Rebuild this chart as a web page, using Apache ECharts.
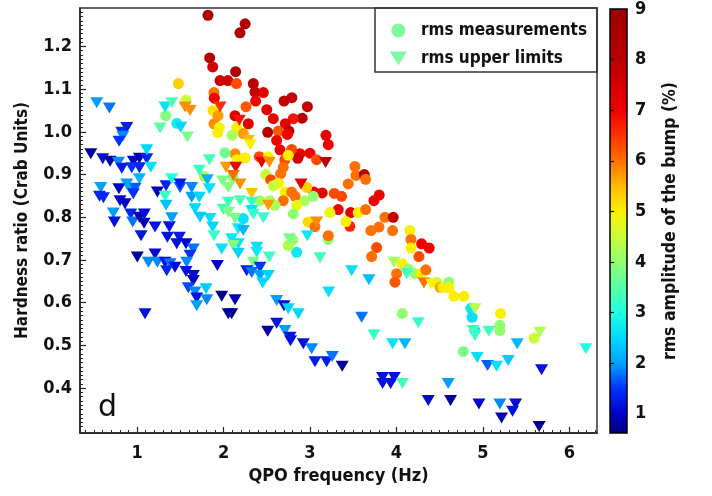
<!DOCTYPE html>
<html><head><meta charset="utf-8">
<script src="https://cdn.jsdelivr.net/npm/echarts@6/dist/echarts.min.js"></script>
<style>html,body{margin:0;padding:0;background:#fff}#c{width:712px;height:496px}</style>
</head><body><div id="c"></div>
<script>
// ---- data: rms measurements (circles) ----
const measFreq = [1.82,2.25,2.19,1.84,1.875,2.14,1.96,2.05,2.15,2.345,2.364,2.46,1.89,1.894,2.372,2.70,2.79,2.97,2.26,2.50,2.576,2.91,2.807,2.715,2.133,2.287,2.511,2.757,2.634,3.185,1.879,1.936,1.89,1.952,1.933,2.153,2.10,2.229,3.212,3.0,2.884,3.077,3.52,3.532,3.628,3.644,3.443,3.801,3.74,3.281,3.366,3.142,3.046,3.038,2.934,2.962,3.327,3.471,3.558,3.644,3.231,3.867,3.963,2.98,3.058,3.462,3.705,3.798,3.956,4.156,4.168,4.168,4.291,4.379,4.26,3.771,3.713,3.212,3.212,2.846,4.067,4.002,3.983,4.137,4.214,4.291,4.341,4.465,4.503,4.54,4.607,4.607,4.665,4.78,4.861,4.876,5.205,5.197,5.197,4.067,4.908,5.593,4.773,3.416,2.615,2.738,2.653,2.788,2.858,2.133,2.017,2.249,2.414,2.518,2.71,2.691,2.749,2.488,2.546,2.661,2.634,2.576,2.711,2.788,2.827,2.691,2.846,2.807,2.422,2.538,2.595,2.229,2.80,2.749,1.478,1.332,1.566,1.459,1.775,2.153,2.11];
const measHR = [1.273,1.253,1.232,1.173,1.152,1.141,1.12,1.12,1.113,1.113,1.093,1.092,1.092,1.079,1.072,1.072,1.08,1.059,1.059,1.052,1.031,1.032,1.031,1.019,1.038,1.019,0.999,1.002,1.002,0.992,1.05,1.038,1.019,1.01,0.998,1.01,0.992,0.996,0.970,0.95,0.949,0.935,0.919,0.898,0.90,0.889,0.878,0.852,0.839,0.856,0.849,0.857,0.859,0.849,0.839,0.87,0.818,0.811,0.811,0.818,0.811,0.80,0.80,0.789,0.778,0.779,0.769,0.777,0.769,0.769,0.748,0.728,0.738,0.728,0.708,0.729,0.708,0.748,0.757,0.718,0.691,0.668,0.648,0.679,0.668,0.669,0.677,0.648,0.636,0.636,0.648,0.635,0.615,0.615,0.587,0.566,0.575,0.547,0.535,0.575,0.535,0.517,0.486,0.79,0.98,0.994,0.958,0.959,0.938,0.949,0.951,0.939,0.942,0.941,0.935,0.917,0.945,0.90,0.888,0.902,0.88,0.874,0.859,0.859,0.849,0.839,0.828,0.808,0.839,0.839,0.828,0.797,0.747,0.734,1.113,1.038,1.074,1.02,0.896,0.935,0.895];
const measRms = [8.5,8.3,8.3,8.0,7.5,8.3,7.6,7.6,6.3,8.0,7.8,7.3,6.0,7.0,7.0,7.8,7.8,7.8,6.2,7.2,7.0,8.0,6.8,7.2,7.3,7.2,8.0,7.8,6.2,7.2,5.1,5.7,5.8,4.9,5.0,5.0,4.2,5.7,7.0,7.0,7.0,6.3,6.0,6.0,8.0,6.0,6.0,7.0,7.0,6.3,6.3,7.2,7.0,4.0,4.2,5.3,7.0,7.2,5.0,6.0,4.8,6.0,7.8,5.2,6.0,6.6,6.0,6.0,6.0,5.0,6.0,5.0,7.0,7.0,6.3,6.3,6.0,4.0,6.0,2.7,5.0,6.0,6.2,4.0,4.0,5.0,6.0,4.5,5.6,5.0,4.0,5.0,5.0,5.0,2.7,2.6,5.0,4.0,4.0,4.0,2.7,4.5,3.8,5.0,7.0,7.0,7.0,6.3,7.6,5.8,3.7,5.0,6.3,5.0,6.3,6.0,5.0,4.5,6.3,6.0,5.0,4.5,5.0,6.0,6.0,6.0,4.8,4.0,4.2,4.2,4.2,2.6,4.0,4.3,5.3,3.9,4.5,2.8,4.3,5.0,3.9];

// ---- data: rms upper limits (triangles) ----
const limFreq = [1.96,2.183,3.181,2.896,3.077,2.969,3.116,3.482,3.682,3.216,3.971,4.118,4.318,4.407,4.908,3.598,4.252,3.74,3.956,4.098,4.888,4.908,5.069,5.397,5.659,6.191,4.934,5.054,5.159,5.293,5.679,2.923,3.019,3.058,3.193,3.258,3.373,3.84,3.975,3.84,3.933,4.07,4.599,4.368,4.626,4.954,5.197,5.378,5.343,5.216,5.651,2.287,2.31,1.836,2.029,2.141,2.113,2.191,2.326,2.441,2.53,2.518,2.326,2.191,2.055,1.998,2.055,2.326,2.345,2.46,2.133,1.844,1.875,2.171,2.229,1.89,2.094,2.171,2.113,1.979,2.171,2.384,2.384,2.53,2.761,0.534,0.68,0.881,0.823,0.835,0.792,0.465,0.603,0.688,0.784,0.823,0.957,1.027,1.112,0.939,1.027,1.112,1.159,1.266,1.324,1.401,1.555,1.613,1.505,1.582,1.72,1.813,1.836,1.027,0.58,0.881,0.79,0.919,0.977,0.565,0.611,0.803,0.861,0.957,1.235,1.335,1.401,1.497,1.497,1.324,1.335,1.632,1.632,1.72,1.67,1.728,0.726,0.738,0.927,0.95,1.027,1.084,1.081,1.208,1.373,1.401,1.046,1.351,1.489,1.459,1.566,1.651,1.613,1.574,1.003,1.131,1.208,1.235,1.324,1.382,1.439,1.343,1.566,1.651,1.651,1.593,1.67,1.798,1.69,1.806,1.69,1.092,1.929,1.979,2.133,2.055,2.094,2.345,2.268,2.326,2.422,2.422,2.518,2.453,2.615,2.699,2.749,2.865,2.615,2.511,2.711,2.769,2.775,1.99,2.055];
const limHR = [1.058,1.027,0.928,0.878,0.789,0.757,0.705,0.675,0.654,0.625,0.695,0.668,0.646,0.644,0.586,0.566,0.553,0.525,0.504,0.504,0.535,0.523,0.533,0.504,0.531,0.492,0.472,0.453,0.451,0.465,0.443,0.504,0.492,0.462,0.462,0.474,0.451,0.425,0.425,0.411,0.411,0.411,0.411,0.371,0.371,0.363,0.363,0.363,0.346,0.33,0.31,0.98,0.97,0.935,0.917,0.917,0.898,0.878,0.856,0.929,0.929,0.828,0.835,0.839,0.835,0.818,0.812,0.816,0.807,0.799,0.797,0.797,0.777,0.773,0.769,0.757,0.75,0.738,0.734,0.726,0.716,0.73,0.718,0.707,0.75,1.068,1.056,1.01,0.999,0.99,0.978,0.949,0.937,0.931,0.929,0.915,0.931,0.938,0.937,0.916,0.916,0.958,0.917,1.009,1.058,1.068,1.058,1.05,1.011,0.988,0.91,0.888,0.867,0.89,0.87,0.878,0.867,0.867,0.868,0.849,0.846,0.839,0.832,0.855,0.859,0.874,0.89,0.87,0.878,0.849,0.828,0.87,0.847,0.847,0.82,0.80,0.81,0.789,0.808,0.789,0.80,0.808,0.786,0.777,0.778,0.799,0.757,0.753,0.753,0.738,0.738,0.726,0.711,0.695,0.707,0.695,0.714,0.695,0.695,0.691,0.683,0.675,0.673,0.664,0.652,0.635,0.625,0.633,0.611,0.607,0.593,0.574,0.687,0.615,0.607,0.574,0.574,0.695,0.675,0.671,0.683,0.664,0.664,0.646,0.605,0.593,0.586,0.574,0.552,0.533,0.535,0.519,0.511,0.885,0.87];
const limRms = [6.5,6.8,8.0,7.2,5.8,2.7,3.3,2.6,2.3,2.6,4.2,3.3,6.0,5.0,4.3,1.8,3.2,3.2,2.6,2.2,3.3,3.2,3.3,2.2,4.3,3.0,2.6,1.7,2.6,2.4,1.2,1.2,1.9,1.3,1.3,1.8,0.8,1.2,1.2,1.2,1.2,3.3,2.0,1.1,0.8,1.1,1.9,1.1,1.2,0.9,0.7,5.5,5.0,3.3,5.7,7.0,6.0,5.8,5.4,7.0,5.8,5.7,3.2,3.4,3.3,3.3,3.8,2.6,3.2,3.2,3.8,2.6,2.5,2.7,2.2,3.2,2.7,2.6,3.9,2.6,2.5,2.6,2.7,3.3,3.8,2.0,1.8,1.3,1.4,1.9,1.5,0.8,1.2,0.8,1.9,1.3,1.0,0.9,1.4,1.5,1.4,2.5,2.6,3.5,2.6,3.4,5.8,5.8,2.5,3.8,3.2,2.2,2.6,2.2,2.0,2.0,1.0,2.1,1.7,1.4,1.4,1.1,1.0,1.5,0.9,1.3,3.0,1.7,1.3,3.2,2.3,1.9,2.0,2.5,2.5,2.4,2.0,1.2,1.4,1.8,0.9,1.1,0.9,1.2,1.2,2.0,1.2,1.2,1.3,1.2,1.1,1.8,1.5,1.9,0.8,1.9,1.1,1.9,1.2,1.8,1.1,1.4,1.2,1.1,1.0,1.6,1.9,2.4,1.2,1.9,2.0,1.2,1.0,0.7,0.9,0.8,0.8,3.8,1.3,1.8,1.5,2.0,2.5,2.5,2.0,1.1,2.5,2.5,1.2,0.8,2.0,1.2,1.2,3.8,3.9];

// ---- ticks / labels ----
const xTickValues = [1, 2, 3, 4, 5, 6];
const yTickValues = [0.4, 0.5, 0.6, 0.7, 0.8, 0.9, 1.0, 1.1, 1.2];
const cbTickValues = [1, 2, 3, 4, 5, 6, 7, 8, 9];
const seriesNames = ['rms measurements', 'rms upper limits'];

// ---- styling ----
const X_MIN = 0.34, X_MAX = 6.32, Y_MIN = 0.295, Y_MAX = 1.29, C_MIN = 0.62, C_MAX = 9;
const FONT = 'DejaVu Sans Condensed';
const rampStops = [[0.62,'#00007a'],[1.0,'#0000c8'],[1.5,'#0030ff'],[2.0,'#00a0ff'],[2.5,'#00d8ff'],[3.0,'#20ffe0'],[3.5,'#58ffa8'],[4.0,'#90ff70'],[4.5,'#c8ff38'],[5.0,'#fff000'],[5.5,'#ffb800'],[6.0,'#ff7000'],[6.5,'#ff3000'],[7.0,'#f00000'],[7.5,'#d40000'],[8.0,'#b80000'],[9.0,'#a00000']];
function hex2rgb(h){return [parseInt(h.slice(1,3),16),parseInt(h.slice(3,5),16),parseInt(h.slice(5,7),16)];}
function ramp(v){
  if (v <= rampStops[0][0]) return rampStops[0][1];
  for (let i = 1; i < rampStops.length; i++) {
    if (v <= rampStops[i][0]) {
      const a = rampStops[i-1], b = rampStops[i];
      const t = (v - a[0]) / (b[0] - a[0]);
      const ca = hex2rgb(a[1]), cb = hex2rgb(b[1]);
      const c = ca.map((x, k) => Math.round(x + (cb[k] - x) * t));
      return 'rgb(' + c.join(',') + ')';
    }
  }
  return rampStops[rampStops.length-1][1];
}
const N = 120;
const vmColors = [];
for (let i = 0; i <= N; i++) vmColors.push(ramp(C_MIN + (C_MAX - C_MIN) * i / N));
const gradStops = [];
for (let i = 0; i <= N; i++) gradStops.push({offset: i / N, color: ramp(C_MAX - (C_MAX - C_MIN) * i / N)});

const minorX = []; for (let i = 4; i <= 63; i++) if (i % 10) minorX.push(i / 10);
const minorY = []; for (let i = 30; i <= 128; i++) if (i % 10) minorY.push(i / 100);

const measData = measFreq.map((f, i) => [f, measHR[i], measRms[i]]);
const limData = limFreq.map((f, i) => [f, limHR[i], limRms[i]]);

const PLOT = {left: 80, top: 8, width: 517, height: 425};
const labelStyle = {fontFamily: FONT, fontWeight: 'bold', fontSize: 18, color: '#111'};
const chart = echarts.init(document.getElementById('c'), null, {renderer: 'canvas'});
chart.setOption({
  animation: false,
  backgroundColor: '#fff',
  title: {text: 'd', left: 93, top: 388, textStyle: {fontFamily: 'DejaVu Sans', fontWeight: 'normal', fontSize: 30, color: '#111'}},
  grid: [
    Object.assign({show: true, borderColor: '#333', borderWidth: 1.5, backgroundColor: 'transparent'}, PLOT),
    {left: 610, top: 9, width: 17, height: 424, show: true, borderColor: '#000', borderWidth: 1.5,
     backgroundColor: {type: 'linear', x: 0, y: 0, x2: 0, y2: 1, colorStops: gradStops}},
    Object.assign({show: false}, PLOT)
  ],
  xAxis: [
    {type: 'value', gridIndex: 0, min: X_MIN, max: X_MAX, position: 'bottom',
     name: 'QPO frequency (Hz)', nameLocation: 'middle', nameGap: 34,
     nameTextStyle: {fontFamily: FONT, fontWeight: 'bold', fontSize: 18, color: '#111'},
     axisLine: {show: true, lineStyle: {color: '#222', width: 1.5}},
     axisTick: {show: true, inside: true, length: 6, customValues: xTickValues, lineStyle: {color: '#222', width: 1.2}},
     axisLabel: {show: true, customValues: xTickValues, margin: 11, formatter: v => String(Math.round(v)), ...labelStyle},
     splitLine: {show: false}},
    {type: 'value', gridIndex: 1, min: 0, max: 1, show: false},
    {type: 'value', gridIndex: 2, min: X_MIN, max: X_MAX, position: 'bottom',
     axisLine: {show: false}, axisLabel: {show: false}, splitLine: {show: false},
     axisTick: {show: true, inside: true, length: 3, customValues: minorX, lineStyle: {color: '#222', width: 1}}}
  ],
  yAxis: [
    {type: 'value', gridIndex: 0, min: Y_MIN, max: Y_MAX, position: 'left',
     name: 'Hardness ratio (Crab Units)', nameLocation: 'middle', nameGap: 49, nameRotate: 90,
     nameTextStyle: {fontFamily: FONT, fontWeight: 'bold', fontSize: 17, color: '#111'},
     axisLine: {show: true, lineStyle: {color: '#222', width: 1.5}},
     axisTick: {show: true, inside: true, length: 6, customValues: yTickValues, lineStyle: {color: '#222', width: 1.2}},
     axisLabel: {show: true, customValues: yTickValues, margin: 8, formatter: v => v.toFixed(1), ...labelStyle},
     splitLine: {show: false}},
    {type: 'value', gridIndex: 1, min: C_MIN, max: C_MAX, position: 'right',
     name: 'rms amplitude of the bump (%)', nameLocation: 'middle', nameGap: 34, nameRotate: 90,
     nameTextStyle: {fontFamily: FONT, fontWeight: 'bold', fontSize: 17.5, color: '#111'},
     axisLine: {show: false},
     axisTick: {show: true, inside: false, length: 4, customValues: cbTickValues, lineStyle: {color: '#111', width: 1.2}},
     axisLabel: {show: true, customValues: cbTickValues, margin: 8, formatter: v => String(Math.round(v)), ...labelStyle},
     splitLine: {show: false}},
    {type: 'value', gridIndex: 2, min: Y_MIN, max: Y_MAX, position: 'left',
     axisLine: {show: false}, axisLabel: {show: false}, splitLine: {show: false},
     axisTick: {show: true, inside: true, length: 3, customValues: minorY, lineStyle: {color: '#222', width: 1}}}
  ],
  visualMap: {type: 'continuous', show: false, dimension: 2, seriesIndex: [0, 1], min: C_MIN, max: C_MAX, inRange: {color: vmColors}},
  legend: {
    orient: 'vertical', left: 385, top: 17, itemWidth: 25, itemHeight: 14, itemGap: 11,
    data: [
      {name: seriesNames[0], icon: 'circle'},
      {name: seriesNames[1], icon: 'path://M0,0L12,0L6,10Z'}
    ],
    textStyle: {fontFamily: FONT, fontWeight: 'bold', fontSize: 17, color: '#111', padding: [0, 0, 0, 5]}
  },
  graphic: [{type: 'rect', shape: {x: 375, y: 8, width: 222, height: 64}, style: {fill: 'transparent', stroke: '#333', lineWidth: 1.5}, z: 100}],
  series: [
    {type: 'scatter', name: seriesNames[0], xAxisIndex: 0, yAxisIndex: 0, symbol: 'circle', symbolSize: 11,
     itemStyle: {color: '#80f9a0', opacity: 1}, data: measData, z: 2},
    {type: 'scatter', name: seriesNames[1], xAxisIndex: 0, yAxisIndex: 0, symbol: 'triangle', symbolRotate: 180, symbolSize: [13, 11],
     itemStyle: {color: '#80f9a0', opacity: 1}, data: limData, z: 3}
  ]
});
</script></body></html>
